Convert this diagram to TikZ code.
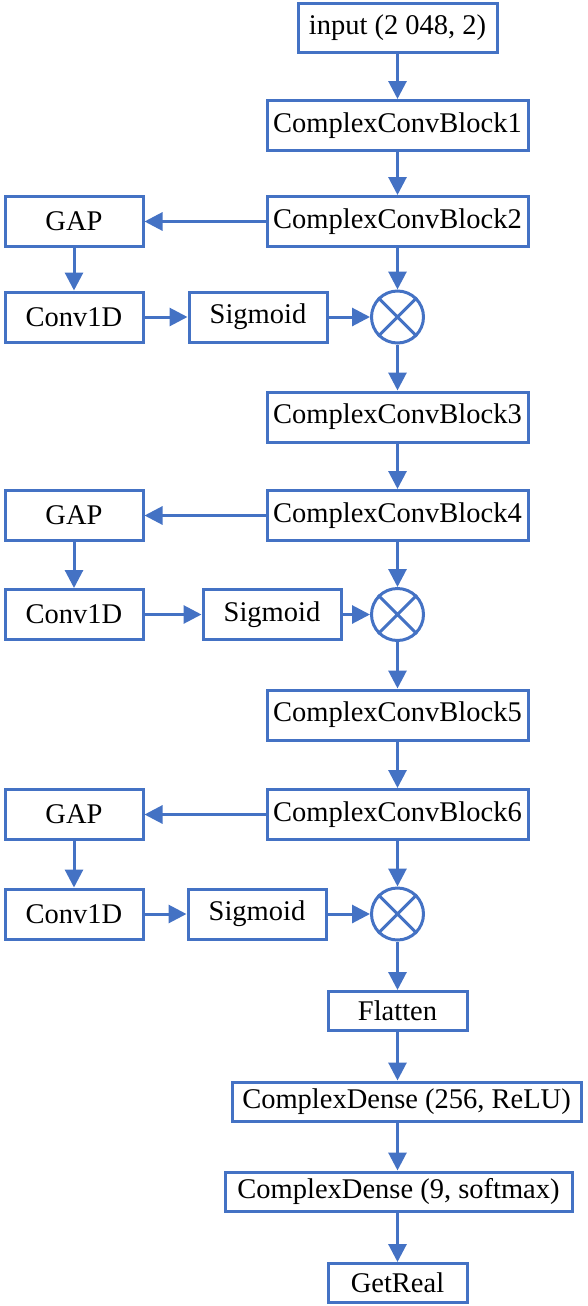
\documentclass[tikz,border=0pt]{standalone}
\usepackage{fontspec}
\setmainfont{Liberation Serif}
\usepackage{tikz}
\usetikzlibrary{shapes}
\usetikzlibrary{arrows.meta}
\definecolor{netblue}{RGB}{68,114,196}

\begin{document}
\begin{tikzpicture}[x=0.5pt,y=-0.5pt]
				\tikzstyle{layer}=[rectangle,draw=netblue,line width=1.5pt,inner sep=0pt,minimum height=25pt,font=\fontsize{14.25}{17}\selectfont]
				\tikzstyle{block}=[layer,minimum width=130.5pt]
				\tikzstyle{side}=[layer,minimum width=69pt]
				\tikzstyle{slim}=[layer,minimum height=19.5pt]
				\tikzstyle{mult}=[circle,draw=netblue,line width=1.5pt,inner sep=0pt,minimum size=26pt]
				\tikzstyle{flow}=[draw=netblue,line width=1.5pt,-{Triangle[length=9pt,width=9pt]}]
				\tikzstyle{cross}=[draw=netblue,line width=1.5pt]
				\useasboundingbox (0,0) rectangle (588,1306);

				% main path
				\node[layer,minimum width=99.5pt,minimum height=24.5pt] (input) at (397.5,27.5) {input (2 048, 2)};
				\node[block] (ccb1) at (397.5,125.5) {ComplexConvBlock1};
				\node[block] (ccb2) at (397.5,221.5) {ComplexConvBlock2};
				\node[mult] (mul1) at (397.5,317) {};
				\node[block] (ccb3) at (397.5,417) {ComplexConvBlock3};
				\node[block] (ccb4) at (397.5,515.5) {ComplexConvBlock4};
				\node[mult] (mul2) at (397.5,614.5) {};
				\node[block] (ccb5) at (397.5,715) {ComplexConvBlock5};
				\node[block] (ccb6) at (397.5,814.5) {ComplexConvBlock6};
				\node[mult] (mul3) at (397.5,914) {};
				\node[slim,minimum width=69.5pt] (flat) at (397.5,1011) {Flatten};
				\node[slim,minimum width=174.5pt] (dense1) at (406.5,1101.5) {ComplexDense (256, ReLU)};
				\node[slim,minimum width=173.5pt] (dense2) at (398.5,1191.5) {ComplexDense (9, softmax)};
				\node[slim,minimum width=69.5pt] (real) at (397.5,1283) {GetReal};

				% attention branches
				\node[side] (gap1) at (74,221.5) {GAP};
				\node[side] (conv1) at (74,317) {Conv1D};
				\node[side] (sig1) at (258,317) {Sigmoid};
				\node[side] (gap2) at (74,515.5) {GAP};
				\node[side] (conv2) at (74,614.5) {Conv1D};
				\node[side] (sig2) at (272,614.5) {Sigmoid};
				\node[side] (gap3) at (74,814.5) {GAP};
				\node[side] (conv3) at (74,914) {Conv1D};
				\node[side] (sig3) at (257,914) {Sigmoid};

				\draw[cross] (mul1.north west) -- (mul1.south east) (mul1.north east) -- (mul1.south west);
				\draw[cross] (mul2.north west) -- (mul2.south east) (mul2.north east) -- (mul2.south west);
				\draw[cross] (mul3.north west) -- (mul3.south east) (mul3.north east) -- (mul3.south west);

				\draw[flow] (input) -- (ccb1);
				\draw[flow] (ccb1) -- (ccb2);
				\draw[flow] (ccb2) -- (mul1);
				\draw[flow] (mul1) -- (ccb3);
				\draw[flow] (ccb3) -- (ccb4);
				\draw[flow] (ccb4) -- (mul2);
				\draw[flow] (mul2) -- (ccb5);
				\draw[flow] (ccb5) -- (ccb6);
				\draw[flow] (ccb6) -- (mul3);
				\draw[flow] (mul3) -- (flat);
				\draw[flow] (flat.south) -- (flat.south |- dense1.north);
				\draw[flow] (flat.south |- dense1.south) -- (dense2.north -| flat.south);
				\draw[flow] (dense2.south -| flat.south) -- (real.north);

				\draw[flow] (ccb2) -- (gap1);
				\draw[flow] (gap1) -- (conv1);
				\draw[flow] (conv1) -- (sig1);
				\draw[flow] (sig1) -- (mul1);
				\draw[flow] (ccb4) -- (gap2);
				\draw[flow] (gap2) -- (conv2);
				\draw[flow] (conv2) -- (sig2);
				\draw[flow] (sig2) -- (mul2);
				\draw[flow] (ccb6) -- (gap3);
				\draw[flow] (gap3) -- (conv3);
				\draw[flow] (conv3) -- (sig3);
				\draw[flow] (sig3) -- (mul3);
\end{tikzpicture}
\end{document}
